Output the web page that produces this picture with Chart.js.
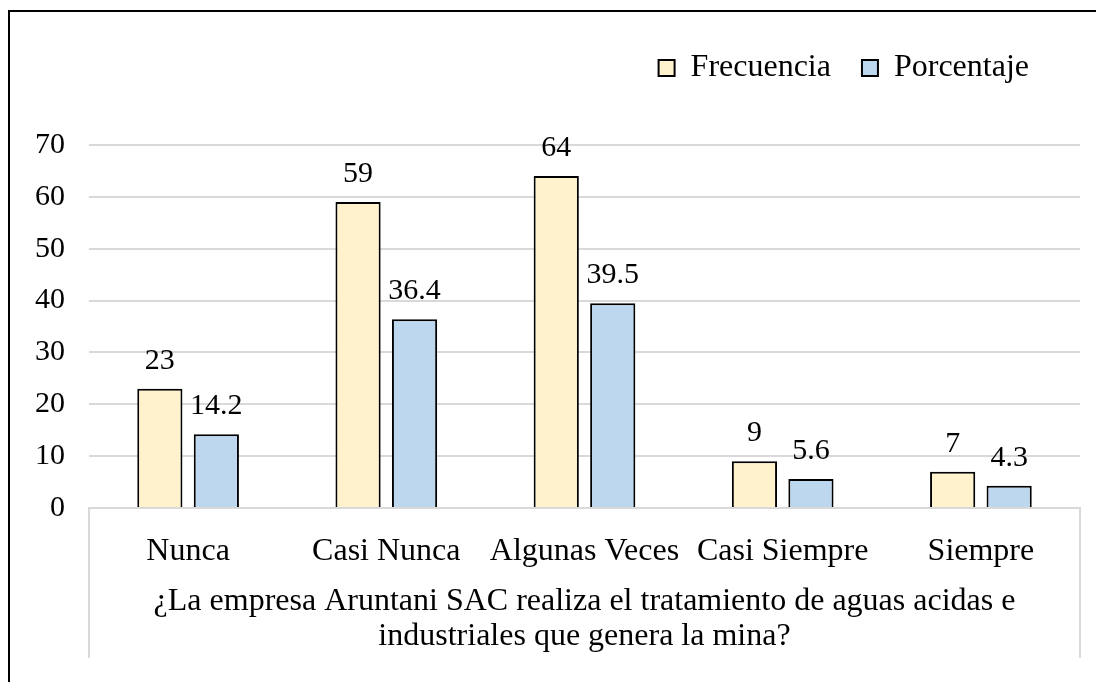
<!DOCTYPE html>
<html>
<head>
<meta charset="utf-8">
<script src="https://cdn.jsdelivr.net/npm/chart.js@4.4.0/dist/chart.umd.min.js"></script>
<style>
  body { margin: 0; background: #fff; }
  #wrap { position: relative; width: 1096px; height: 682px; overflow: hidden; }
  #frame { position: absolute; left: 8px; top: 10px; width: 1200px; height: 800px; border: 2px solid #000; }
  canvas { position: absolute; left: 0; top: 0; }
</style>
</head>
<body>
<div id="wrap">
  <div id="frame"></div>
  <canvas id="chart" width="1096" height="682"></canvas>
</div>
<script>
var categories = ['Nunca', 'Casi Nunca', 'Algunas Veces', 'Casi Siempre', 'Siempre'];
var frecuencia = [23, 59, 64, 9, 7];
var porcentaje = [14.2, 36.4, 39.5, 5.6, 4.3];
var axisTitle = ['¿La empresa Aruntani SAC realiza el tratamiento de aguas acidas e',
                 'industriales que genera la mina?'];

var serif = '"Liberation Serif", "Times New Roman", serif';

// numbers above the bars
var barValueLabels = {
  id: 'barValueLabels',
  afterDatasetsDraw: function(chart) {
    var ctx = chart.ctx;
    ctx.save();
    ctx.font = '30px ' + serif;
    ctx.fillStyle = '#000';
    ctx.textAlign = 'center';
    ctx.textBaseline = 'alphabetic';
    chart.data.datasets.forEach(function(ds, i) {
      chart.getDatasetMeta(i).data.forEach(function(bar, j) {
        ctx.fillText(String(ds.data[j]), bar.x, bar.y - 20);
      });
    });
    ctx.restore();
  }
};

// grey box under the plot that holds the category labels + title
var categoryBox = {
  id: 'categoryBox',
  afterDraw: function(chart) {
    var a = chart.chartArea, ctx = chart.ctx;
    var bottom = chart.height - 24;
    ctx.save();
    ctx.strokeStyle = '#d9d9d9';
    ctx.lineWidth = 2;
    ctx.beginPath();
    ctx.moveTo(a.left, bottom);
    ctx.lineTo(a.left, a.bottom);
    ctx.lineTo(a.right, a.bottom);
    ctx.lineTo(a.right, bottom);
    ctx.stroke();
    ctx.restore();
  }
};

// keep the legend tall so the plot starts lower, and start the row a bit further left
var legendSpacer = {
  id: 'legendSpacer',
  afterInit: function(chart) {
    var lg = chart.legend;
    var fit = lg.fit;
    lg.fit = function() {
      fit.call(this);
      this.height = 124;
      if (this.lineWidths && this.lineWidths.length) this.lineWidths[0] += 20;
    };
  }
};

new Chart(document.getElementById('chart'), {
  type: 'bar',
  data: {
    labels: categories,
    datasets: [
      {
        label: 'Frecuencia',
        data: frecuencia,
        backgroundColor: '#fff2cc',
        borderColor: '#000',
        borderWidth: 2,
        categoryPercentage: 0.57,
        barPercentage: 0.8
      },
      {
        label: 'Porcentaje',
        data: porcentaje,
        backgroundColor: '#bdd7ee',
        borderColor: '#000',
        borderWidth: 2,
        categoryPercentage: 0.57,
        barPercentage: 0.8
      }
    ]
  },
  options: {
    responsive: false,
    animation: false,
    layout: { padding: { top: 21, right: 16, left: 0, bottom: 0 } },
    plugins: {
      legend: {
        position: 'top',
        align: 'end',
        labels: {
          boxWidth: 16,
          boxHeight: 16,
          padding: 31,
          color: '#000',
          font: { family: serif, size: 32 }
        }
      },
      tooltip: { enabled: false }
    },
    scales: {
      x: {
        grid: { display: false },
        border: { display: false },
        ticks: { color: '#000', padding: 16, font: { family: serif, size: 32 } },
        title: {
          display: true,
          text: axisTitle,
          color: '#000',
          padding: { top: 0, bottom: 28 },
          font: { family: serif, size: 32, lineHeight: 35 / 32 }
        },
        afterFit: function(scale) { scale.height = 174; }
      },
      y: {
        min: 0,
        max: 70,
        ticks: { stepSize: 10, color: '#000', padding: 24, font: { family: serif, size: 30 } },
        grid: { color: '#d9d9d9', lineWidth: 2, drawTicks: false },
        border: { display: false },
        afterFit: function(scale) { scale.width = 89; }
      }
    }
  },
  plugins: [legendSpacer, barValueLabels, categoryBox]
});
</script>
</body>
</html>
